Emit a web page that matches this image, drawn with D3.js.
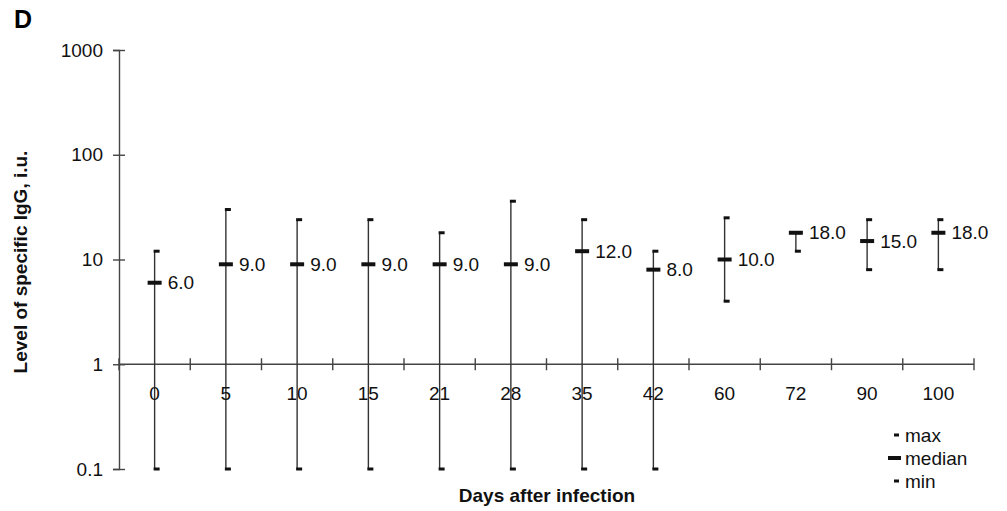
<!DOCTYPE html>
<html>
<head>
<meta charset="utf-8">
<script src="https://cdn.jsdelivr.net/npm/d3@7"></script>
<style>
  body { margin: 0; background: #fff; }
  text { font-family: "Liberation Sans", Arial, sans-serif; }
</style>
</head>
<body>
<div id="canvas"></div>
<script>
"use strict"

// Data (levels of specific IgG, i.u.)
let days = ["0", "5", "10", "15", "21", "28", "35", "42", "60", "72", "90", "100"];
let medians = [6, 9, 9, 9, 9, 9, 12, 8, 10, 18, 15, 18];
let maxima = [12, 30, 24, 24, 18, 36, 24, 12, 25, 18, 24, 24];
let minima = [0.1, 0.1, 0.1, 0.1, 0.1, 0.1, 0.1, 0.1, 4, 12, 8, 8];
let yTicks = [0.1, 1, 10, 100, 1000];
let legendItems = ["max", "median", "min"];

let drawing = d3.select("#canvas")
    .append("svg")
    .attr("width", 1007)
    .attr("height", 511);

let x = d3.scaleBand()
    .domain(days)
    .range([119, 974]);

let y = d3.scaleLog()
    .domain([0.1, 1000])
    .range([469, 50]);

let axisColor = "#444";

// Panel letter
drawing.append("text")
    .attr("x", 14)
    .attr("y", 28)
    .attr("font-size", 25)
    .attr("font-weight", "bold")
    .text("D");

// Y axis
let yAxis = drawing.append("g")
    .attr("transform", "translate(119,0)")
    .call(d3.axisLeft(y)
        .tickValues(yTicks)
        .tickFormat(d => d < 1 ? d3.format(".1f")(d) : d3.format("d")(d))
        .tickSize(6)
        .tickPadding(10));
yAxis.select(".domain").attr("stroke", axisColor).attr("stroke-width", 1.4);
yAxis.selectAll(".tick line")
    .attr("x1", -6).attr("x2", 6)
    .attr("stroke", axisColor).attr("stroke-width", 1.4);
yAxis.selectAll(".tick text")
    .attr("font-size", 19)
    .attr("fill", "#111")
    .style("font-family", "'Liberation Sans', Arial, sans-serif");

// X axis sits at value 1
let xAxisY = y(1);
drawing.append("line")
    .attr("x1", x.range()[0])
    .attr("x2", x.range()[1])
    .attr("y1", xAxisY)
    .attr("y2", xAxisY)
    .attr("stroke", axisColor)
    .attr("stroke-width", 1.4);

// tick marks between the categories
let boundaries = days.map(d => x(d)).concat([x.range()[1]]);
drawing.selectAll(".xtick")
    .data(boundaries)
    .enter().append("line")
    .attr("class", "xtick")
    .attr("x1", d => d)
    .attr("x2", d => d)
    .attr("y1", xAxisY - 6)
    .attr("y2", xAxisY + 6)
    .attr("stroke", axisColor)
    .attr("stroke-width", 1.4);

let cx = d => x(d) + x.bandwidth() / 2;

// Whiskers from min to max
drawing.selectAll(".whisker")
    .data(days)
    .enter().append("line")
    .attr("class", "whisker")
    .attr("x1", d => cx(d))
    .attr("x2", d => cx(d))
    .attr("y1", (d, i) => y(minima[i]))
    .attr("y2", (d, i) => y(maxima[i]))
    .attr("stroke", "#333")
    .attr("stroke-width", 1.4);

// max and min caps (short dash to the right of the line)
drawing.selectAll(".maxcap")
    .data(days)
    .enter().append("rect")
    .attr("x", d => cx(d) - 1)
    .attr("y", (d, i) => y(maxima[i]) - 1.5)
    .attr("width", 6)
    .attr("height", 3)
    .attr("fill", "#111");
drawing.selectAll(".mincap")
    .data(days)
    .enter().append("rect")
    .attr("x", d => cx(d) - 1)
    .attr("y", (d, i) => y(minima[i]) - 1.5)
    .attr("width", 6)
    .attr("height", 3)
    .attr("fill", "#111");

// Median bars
drawing.selectAll(".median")
    .data(days)
    .enter().append("rect")
    .attr("x", d => cx(d) - 7)
    .attr("y", (d, i) => y(medians[i]) - 2)
    .attr("width", 14)
    .attr("height", 4)
    .attr("fill", "#111");

// Median value labels
drawing.selectAll(".medlabel")
    .data(days)
    .enter().append("text")
    .attr("x", d => cx(d) + 13)
    .attr("y", (d, i) => y(medians[i]))
    .attr("dy", "0.35em")
    .attr("font-size", 19)
    .attr("fill", "#111")
    .text((d, i) => d3.format(".1f")(medians[i]));

// Category labels
drawing.selectAll(".daylabel")
    .data(days)
    .enter().append("text")
    .attr("x", d => cx(d))
    .attr("y", xAxisY + 36)
    .attr("text-anchor", "middle")
    .attr("font-size", 19)
    .attr("fill", "#111")
    .text(d => d);

// Axis titles
drawing.append("text")
    .attr("x", 547)
    .attr("y", 502)
    .attr("text-anchor", "middle")
    .attr("font-size", 19)
    .attr("font-weight", "bold")
    .attr("fill", "#111")
    .text("Days after infection");

drawing.append("text")
    .attr("transform", "translate(27,262) rotate(-90)")
    .attr("text-anchor", "middle")
    .attr("font-size", 19)
    .attr("font-weight", "bold")
    .attr("fill", "#111")
    .text("Level of specific IgG, i.u.");

// Legend
let legend = drawing.selectAll(".legend")
    .data(legendItems)
    .enter().append("g")
    .attr("transform", (d, i) => "translate(905," + (435 + i * 23) + ")");
legend.append("rect")
    .attr("x", d => d === "median" ? -17 : -11)
    .attr("y", d => d === "median" ? -2 : -1.5)
    .attr("width", d => d === "median" ? 13 : 5)
    .attr("height", d => d === "median" ? 4 : 3)
    .attr("fill", "#111");
legend.append("text")
    .attr("x", 0)
    .attr("dy", "0.35em")
    .attr("font-size", 19)
    .attr("fill", "#111")
    .text(d => d);
</script>
</body>
</html>
